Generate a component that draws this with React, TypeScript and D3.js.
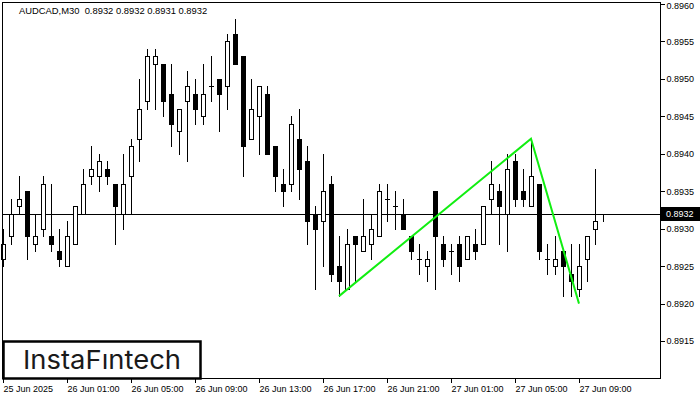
import { useRef, useEffect } from 'react';
import * as d3 from 'd3';

// AUDCAD M30 candles (bar 0 = 25 Jun 21:00)
const opens = [0.8926, 0.8929, 0.8933, 0.8935, 0.8928, 0.8930, 0.8929, 0.8927, 0.8925, 0.8928,
    0.8932, 0.8937, 0.8937, 0.8938, 0.8936, 0.8932, 0.8937, 0.8942, 0.8947, 0.8952,
    0.8952, 0.8948, 0.8943, 0.8947, 0.8948, 0.8945, 0.8949, 0.8950, 0.8949, 0.8956,
    0.8953, 0.8942, 0.8945, 0.8948, 0.8941, 0.8936, 0.8936, 0.8942, 0.8939, 0.8932,
    0.8931, 0.8936, 0.8925, 0.8922, 0.8929, 0.8927, 0.8928, 0.8929, 0.8934, 0.8933,
    0.8932, 0.8929, 0.8926, 0.8925, 0.8935, 0.8928, 0.8927, 0.8928, 0.8926, 0.8928,
    0.8928, 0.8934, 0.8935, 0.8932, 0.8939, 0.8935, 0.8933, 0.8936, 0.8926, 0.8925,
    0.8927, 0.8924, 0.8922, 0.8926, 0.8930, 0.8932];

const highs = [0.8930, 0.8934, 0.8937, 0.8935, 0.8932, 0.8937, 0.8936, 0.8930, 0.8931, 0.8933,
    0.8938, 0.8941, 0.8940, 0.8939, 0.8936, 0.8940, 0.8942, 0.8950, 0.8954, 0.8954,
    0.8952, 0.8952, 0.8946, 0.8951, 0.8950, 0.8952, 0.8953, 0.8950, 0.8956, 0.8958,
    0.8953, 0.8950, 0.8949, 0.8949, 0.8941, 0.8938, 0.8945, 0.8946, 0.8941, 0.8933,
    0.8940, 0.8937, 0.8929, 0.8930, 0.8929, 0.8934, 0.8932, 0.8936, 0.8936, 0.8935,
    0.8934, 0.8929, 0.8928, 0.8927, 0.8935, 0.8929, 0.8928, 0.8929, 0.8929, 0.8930,
    0.8933, 0.8939, 0.8936, 0.8940, 0.8940, 0.8938, 0.8942, 0.8936, 0.8928, 0.8929,
    0.8927, 0.8928, 0.8928, 0.8929, 0.8938, 0.8932];

const lows = [0.8925, 0.8928, 0.8932, 0.8926, 0.8927, 0.8929, 0.8927, 0.8925, 0.8925, 0.8928,
    0.8932, 0.8936, 0.8935, 0.8936, 0.8928, 0.8930, 0.8932, 0.8939, 0.8946, 0.8946,
    0.8945, 0.8941, 0.8940, 0.8939, 0.8944, 0.8944, 0.8947, 0.8943, 0.8946, 0.8952,
    0.8937, 0.8942, 0.8940, 0.8940, 0.8935, 0.8933, 0.8935, 0.8934, 0.8928, 0.8922,
    0.8925, 0.8923, 0.8921, 0.8922, 0.8923, 0.8927, 0.8926, 0.8929, 0.8931, 0.8930,
    0.8930, 0.8926, 0.8924, 0.8923, 0.8922, 0.8925, 0.8924, 0.8923, 0.8926, 0.8926,
    0.8928, 0.8932, 0.8928, 0.8927, 0.8933, 0.8933, 0.8933, 0.8926, 0.8924, 0.8924,
    0.8921, 0.8921, 0.8921, 0.8923, 0.8928, 0.8931];

const closes = [0.8928, 0.8932, 0.8934, 0.8929, 0.8929, 0.8936, 0.8928, 0.8926, 0.8929, 0.8933,
    0.8936, 0.8938, 0.8939, 0.8937, 0.8933, 0.8936, 0.8941, 0.8946, 0.8953, 0.8953,
    0.8947, 0.8944, 0.8946, 0.8949, 0.8946, 0.8948, 0.8949, 0.8948, 0.8955, 0.8952,
    0.8941, 0.8946, 0.8949, 0.8940, 0.8937, 0.8935, 0.8944, 0.8938, 0.8931, 0.8930,
    0.8935, 0.8924, 0.8923, 0.8928, 0.8928, 0.8929, 0.8930, 0.8935, 0.8934, 0.8933,
    0.8930, 0.8927, 0.8926, 0.8926, 0.8929, 0.8926, 0.8927, 0.8925, 0.8929, 0.8927,
    0.8933, 0.8936, 0.8933, 0.8938, 0.8934, 0.8934, 0.8937, 0.8927, 0.8926, 0.8926,
    0.8925, 0.8923, 0.8925, 0.8929, 0.8931, 0.8932];

// x axis labels (every 8 bars = 4 hours)
const timeTickIdx = [0, 8, 16, 24, 32, 40, 48, 56, 64, 72];
const timeTickLabels = ['25 Jun 2025', '26 Jun 01:00', '26 Jun 05:00', '26 Jun 09:00', '26 Jun 13:00',
    '26 Jun 17:00', '26 Jun 21:00', '27 Jun 01:00', '27 Jun 05:00', '27 Jun 09:00'];

const priceTicks = [0.8915, 0.8920, 0.8925, 0.8930, 0.8935, 0.8940, 0.8945, 0.8950, 0.8955, 0.8960];

// green pattern line: bar index / price
const patternIdx = [42, 66, 72];
const patternPrice = [0.8921, 0.8942, 0.8920];

const lastPrice = 0.8932;
const title = 'AUDCAD,M30  0.8932 0.8932 0.8931 0.8932';

const W = 700;
const H = 400;

const App = () => {
    const svgRef = useRef<SVGSVGElement | null>(null);

    useEffect(() => {
        const svgEl = svgRef.current;
        if (!svgEl) return;
        const svg = d3.select(svgEl);
        svg.selectAll('*').remove();

        const plot = { left: 2, top: 2, right: 660, bottom: 378 };
        const font = '"Liberation Sans", Arial, sans-serif';

        const x = d3.scaleLinear().domain([0, 75]).range([3, 603]);
        const y = d3.scaleLinear().domain([0.8910, 0.8960]).range([378.5, 4]);

        svg.append('rect')
            .attr('width', W).attr('height', H)
            .attr('fill', '#fff');

        // price line
        svg.append('line')
            .attr('x1', plot.left).attr('x2', plot.right)
            .attr('y1', Math.round(y(lastPrice)) + 0.5).attr('y2', Math.round(y(lastPrice)) + 0.5)
            .attr('stroke', '#000').attr('stroke-width', 1);

        const data = opens.map((o, i) => ({ i, o, h: highs[i], l: lows[i], c: closes[i] }));

        const g = svg.append('g').attr('shape-rendering', 'crispEdges');

        // wicks
        g.selectAll('.wick')
            .data(data)
            .enter().append('line')
            .attr('x1', d => Math.round(x(d.i)) + 0.5)
            .attr('x2', d => Math.round(x(d.i)) + 0.5)
            .attr('y1', d => Math.round(y(d.h)))
            .attr('y2', d => Math.round(y(d.l)) + 1)
            .attr('stroke', '#000')
            .attr('stroke-width', 1);

        // bodies
        g.selectAll('.body')
            .data(data.filter(d => d.o !== d.c))
            .enter().append('rect')
            .attr('x', d => Math.round(x(d.i)) - 2 + 0.5)
            .attr('y', d => Math.round(y(Math.max(d.o, d.c))) + 0.5)
            .attr('width', 4)
            .attr('height', d => Math.max(1, Math.round(y(Math.min(d.o, d.c))) - Math.round(y(Math.max(d.o, d.c)))))
            .attr('fill', d => (d.c > d.o ? '#fff' : '#000'))
            .attr('stroke', '#000')
            .attr('stroke-width', 1);

        // doji
        g.selectAll('.doji')
            .data(data.filter(d => d.o === d.c))
            .enter().append('line')
            .attr('x1', d => Math.round(x(d.i)) - 2)
            .attr('x2', d => Math.round(x(d.i)) + 3)
            .attr('y1', d => Math.round(y(d.o)) + 0.5)
            .attr('y2', d => Math.round(y(d.o)) + 0.5)
            .attr('stroke', '#000');

        // pattern
        const pattern = d3.line<number>()
            .x((_, k) => x(patternIdx[k]))
            .y(d => y(d));
        svg.append('path')
            .datum(patternPrice)
            .attr('fill', 'none')
            .attr('stroke', '#11ee11')
            .attr('stroke-width', 2)
            .attr('d', pattern);

        // frame
        svg.append('rect')
            .attr('x', plot.left + 0.5).attr('y', plot.top + 0.5)
            .attr('width', plot.right - plot.left).attr('height', plot.bottom - plot.top)
            .attr('fill', 'none')
            .attr('stroke', '#000')
            .attr('stroke-width', 1);

        // right axis
        const yAxis = svg.append('g')
            .attr('transform', `translate(${plot.right + 0.5},0)`)
            .call(d3.axisRight(y)
                .tickValues(priceTicks)
                .tickSize(4)
                .tickPadding(2)
                .tickFormat(d => d3.format('.4f')(d as number)));
        yAxis.select('.domain').remove();
        yAxis.selectAll('line').attr('stroke', '#000').attr('shape-rendering', 'crispEdges');
        yAxis.selectAll('text')
            .attr('fill', '#000')
            .style('font-family', font)
            .style('font-size', '9px')
            .attr('dy', (d) => ((d as number) === 0.8960 ? '0.55em' : '0.32em'));

        // price label
        svg.append('rect')
            .attr('x', 661).attr('y', Math.round(y(lastPrice)) - 7)
            .attr('width', 39).attr('height', 14)
            .attr('fill', '#000');
        svg.append('text')
            .attr('x', 666).attr('y', y(lastPrice) + 3.5)
            .attr('fill', '#fff')
            .style('font-family', font)
            .style('font-size', '9px')
            .text(d3.format('.4f')(lastPrice));

        // bottom axis
        const xAxis = svg.append('g')
            .attr('transform', `translate(0,${plot.bottom + 0.5})`)
            .call(d3.axisBottom(x)
                .tickValues(timeTickIdx)
                .tickSize(4)
                .tickPadding(3)
                .tickFormat((_, k) => timeTickLabels[k]));
        xAxis.select('.domain').remove();
        xAxis.selectAll('line').attr('stroke', '#000').attr('shape-rendering', 'crispEdges');
        xAxis.selectAll('text')
            .attr('fill', '#000')
            .attr('text-anchor', 'start')
            .style('font-family', font)
            .style('font-size', '9px');

        // title
        svg.append('text')
            .attr('x', 19).attr('y', 13.5)
            .attr('fill', '#000')
            .style('font-family', font)
            .style('font-size', '9.4px')
            .style('white-space', 'pre')
            .text(title);

        // logo
        svg.append('rect')
            .attr('x', 3.5).attr('y', 341.5)
            .attr('width', 197).attr('height', 37)
            .attr('fill', '#fff')
            .attr('stroke', '#000')
            .attr('stroke-width', 2.5);
        svg.append('text')
            .attr('x', 23).attr('y', 369)
            .attr('fill', '#1a1a1a')
            .attr('textLength', 158)
            .attr('lengthAdjust', 'spacingAndGlyphs')
            .style('font-family', 'Inter, "Noto Sans", sans-serif')
            .style('font-weight', 400)
            .style('font-size', '26px')
            .text('InstaFıntech');
    }, []);

    return (
        <svg ref={svgRef} width={W} height={H}
            style={{ position: 'fixed', left: 0, top: 0, display: 'block' }} />
    );
};

export default App;
